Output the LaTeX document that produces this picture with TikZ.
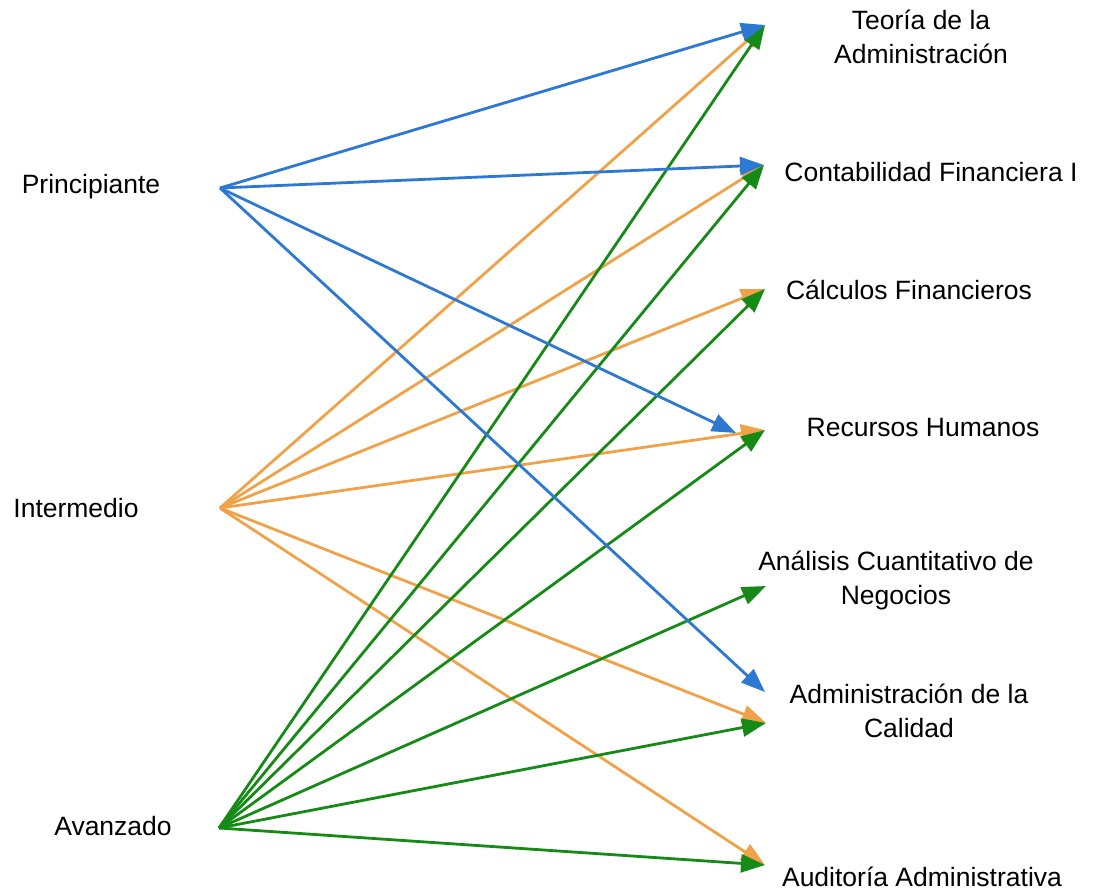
\documentclass[tikz,border=0pt]{standalone}
\usepackage{fontspec}
\setmainfont{Liberation Sans}
\usetikzlibrary{arrows.meta}
\definecolor{cblue}{RGB}{45,120,210}
\definecolor{corange}{RGB}{240,162,72}
\definecolor{cgreen}{RGB}{22,138,22}
\tikzset{
  lbl/.style={inner sep=0pt, align=center, font=\fontsize{26.5}{34}\selectfont},
  conn/.style={line width=2.8pt, -{Triangle[length=24pt,width=18pt]}},
  bl/.style={conn, draw=cblue, fill=cblue},
  orl/.style={conn, draw=corange, fill=corange},
  grl/.style={conn, draw=cgreen, fill=cgreen},
}
\begin{document}
\begin{tikzpicture}[x=1pt,y=-1pt]
\useasboundingbox (0,0) rectangle (1095,894);
% left labels
\node[lbl] (pl) at (91,187) {Principiante};
\node[lbl] (il) at (76,508) {Intermedio};
\node[lbl] (al) at (113,826) {Avanzado};
% sources
\coordinate (P) at (220,188);
\coordinate (I) at (220,508);
\coordinate (A) at (219,828);
% right labels
\node[lbl] (teo) at (921,37) {Teoría de la\\Administración};
\node[lbl] (con) at (931,172) {Contabilidad Financiera I};
\node[lbl] (cal) at (909,290) {Cálculos Financieros};
\node[lbl] (rec) at (923,428) {Recursos Humanos};
\node[lbl] (ana) at (896,580) {Análisis Cuantitativo de\\Negocios};
\node[lbl] (adm) at (909,711) {Administración de la\\Calidad};
\node[lbl] (aud) at (922,877) {Auditoría Administrativa};
% targets
\coordinate (tTeo) at (765,25);
\coordinate (tCon) at (764,165);
\coordinate (tCal) at (765,289);
\coordinate (tRec) at (765,430);
\coordinate (tRecB) at (736,433);
\coordinate (tAna) at (766,586);
\coordinate (tAdmB) at (765,692);
\coordinate (tAdm) at (766,723);
\coordinate (tAud) at (765,865);
% orange
\draw[orl] (I) -- (tTeo);
\draw[orl] (I) -- (tCon);
\draw[orl] (I) -- (tCal);
\draw[orl] (I) -- (tRec);
\draw[orl] (I) -- (tAdm);
\draw[orl] (I) -- (tAud);
% green
\draw[grl] (A) -- (tTeo);
\draw[grl] (A) -- (tCon);
\draw[grl] (A) -- (tCal);
\draw[grl] (A) -- (tRec);
\draw[grl] (A) -- (tAna);
\draw[grl] (A) -- (tAdm);
\draw[grl] (A) -- (tAud);
% blue
\draw[bl] (P) -- (tTeo);
\draw[bl] (P) -- (tCon);
\draw[bl] (P) -- (tRecB);
\draw[bl] (P) -- (tAdmB);
\end{tikzpicture}
\end{document}
